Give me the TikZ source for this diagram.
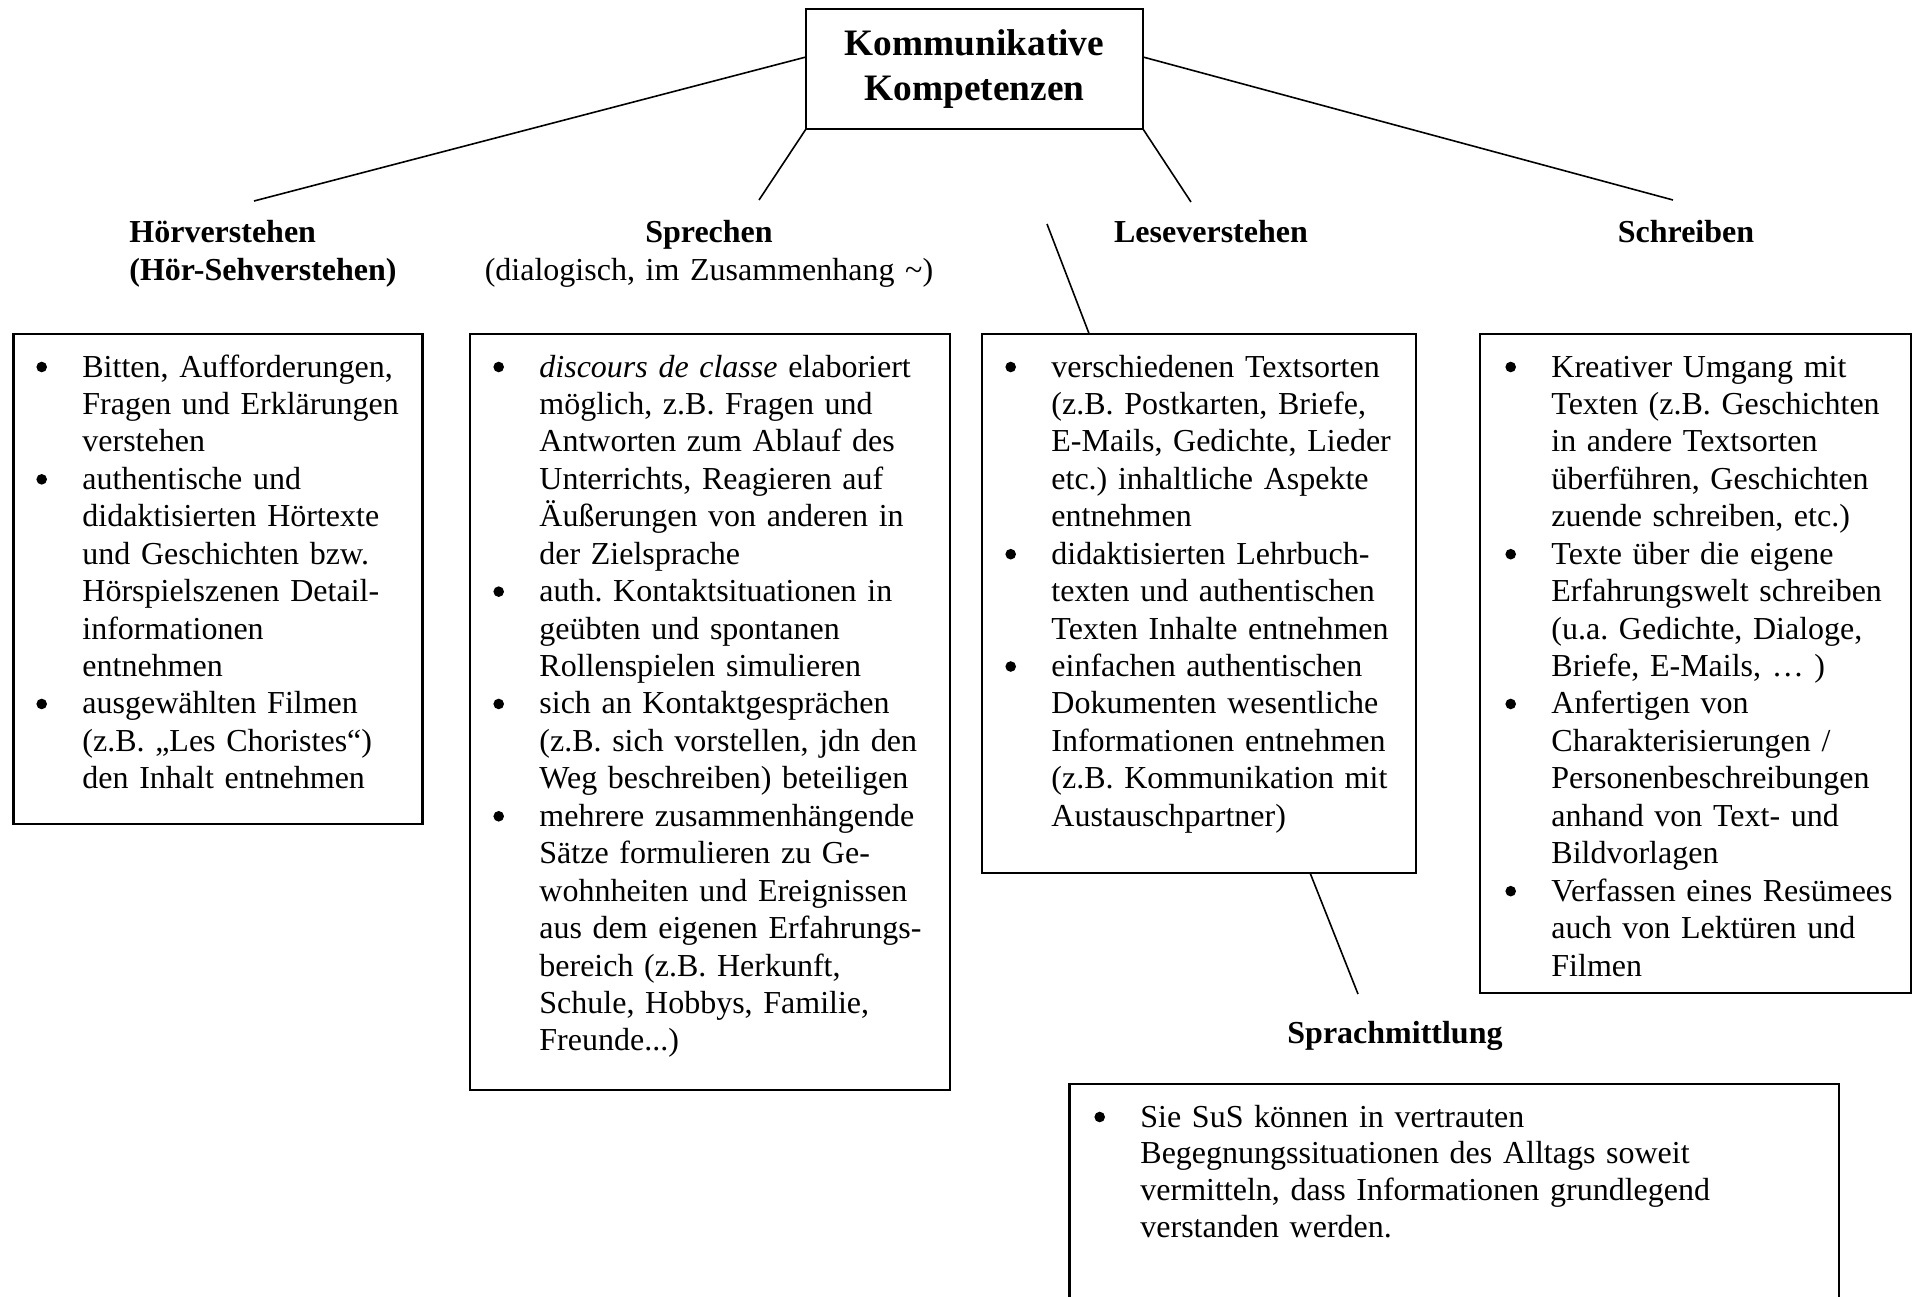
\documentclass[tikz,border=0pt]{standalone}
\usepackage{fontspec}
\setmainfont{Liberation Serif}
\usetikzlibrary{calc}
\frenchspacing
\newcommand{\bul}{\leavevmode\llap{\tikz[baseline=0pt]\fill[black] (0pt,5pt) circle[radius=2.65pt];\hspace{17.7pt}}}
\begin{document}
\begin{tikzpicture}[x=0.5pt,y=-0.5pt,
  boxst/.style={draw, line width=1.2pt, inner sep=0pt, outer sep=0pt, anchor=north west},
  conn/.style={line width=0.8pt},
  txt/.style={anchor=base west, inner sep=0pt, text width=230pt, align=left, font=\fontsize{16}{18.72}\selectfont},
  lbl/.style={inner sep=0pt, font=\fontsize{16}{19}\selectfont\bfseries},
]
\useasboundingbox (0,0) rectangle (1917,1296);
\clip (0,0) rectangle (1917,1296);

% title
\node[boxst, minimum width=168.5pt, minimum height=60pt] (top) at (806,9) {};
\node[anchor=base, inner sep=0pt, text width=160pt, align=center, font=\fontsize{18.67}{22.5}\selectfont\bfseries] (toptxt) at (974.5,55) {Kommunikative\\Kompetenzen};

% labels
\node[lbl, anchor=base west, text width=150pt, align=left] (hv) at (129,242) {Hörverstehen\\(Hör-Sehverstehen)};
\node[lbl, anchor=base, text width=260pt, align=center] (sp) at (709,242) {Sprechen\\\mdseries (dialogisch, im Zusammenhang \textasciitilde)};
\node[lbl, anchor=base] (lv) at (1211,242) {Leseverstehen};
\node[lbl, anchor=base] (sc) at (1686,242) {Schreiben};
\node[lbl, anchor=base] (sm) at (1395,1043) {Sprachmittlung};

% boxes
\node[boxst, minimum width=204.5pt, minimum height=245pt] (b1) at (13.5,334) {};
\node[boxst, minimum width=240pt, minimum height=378pt] (b2) at (470,334) {};
\node[boxst, minimum width=217pt, minimum height=269.5pt] (b3) at (982,334) {};
\node[boxst, minimum width=215.5pt, minimum height=329.5pt] (b4) at (1480,334) {};
\node[boxst, minimum width=384.75pt, minimum height=120pt] (b5) at (1069.5,1084) {};

% connectors
\coordinate (c1) at (254,201);
\coordinate (c2) at (759,200);
\coordinate (c3) at (1191,202);
\coordinate (c4) at (1673,200);
\coordinate (c5) at (1047,224);
\coordinate (c6) at (1358,994);
\draw[conn] ($(top.north west)!0.4!(top.south west)$) -- (c1);
\draw[conn] (top.south west) -- (c2);
\draw[conn] (top.south east) -- (c3);
\draw[conn] ($(top.north east)!0.4!(top.south east)$) -- (c4);
\draw[conn] (c5) -- ($(b3.north west)!0.247!(b3.north east)$);
\draw[conn] ($(b3.south west)!0.756!(b3.south east)$) -- (c6);

% texts
\node[txt] (t1) at (82,377) {\bul Bitten, Aufforderungen,\\
Fragen und Erklärungen\\
verstehen\\
\bul authentische und\\
didaktisierten Hörtexte\\
und Geschichten bzw.\\
Hörspielszenen Detail-\\
informationen\\
entnehmen\\
\bul ausgewählten Filmen\\
(z.B. „Les Choristes“)\\
den Inhalt entnehmen};

\node[txt] (t2) at (539,377) {\bul \textit{discours de classe} elaboriert\\
möglich, z.B. Fragen und\\
Antworten zum Ablauf des\\
Unterrichts, Reagieren auf\\
Äußerungen von anderen in\\
der Zielsprache\\
\bul auth. Kontaktsituationen in\\
geübten und spontanen\\
Rollenspielen simulieren\\
\bul sich an Kontaktgesprächen\\
(z.B. sich vorstellen, jdn den\\
Weg beschreiben) beteiligen\\
\bul mehrere zusammenhängende\\
Sätze formulieren zu Ge-\\
wohnheiten und Ereignissen\\
aus dem eigenen Erfahrungs-\\
bereich (z.B. Herkunft,\\
Schule, Hobbys, Familie,\\
Freunde...)};

\node[txt] (t3) at (1051,377) {\bul verschiedenen Textsorten\\
(z.B. Postkarten, Briefe,\\
E-Mails, Gedichte, Lieder\\
etc.) inhaltliche Aspekte\\
entnehmen\\
\bul didaktisierten Lehrbuch-\\
texten und authentischen\\
Texten Inhalte entnehmen\\
\bul einfachen authentischen\\
Dokumenten wesentliche\\
Informationen entnehmen\\
(z.B. Kommunikation mit\\
Austauschpartner)};

\node[txt] (t4) at (1551,377) {\bul Kreativer Umgang mit\\
Texten (z.B. Geschichten\\
in andere Textsorten\\
überführen, Geschichten\\
zuende schreiben, etc.)\\
\bul Texte über die eigene\\
Erfahrungswelt schreiben\\
(u.a. Gedichte, Dialoge,\\
Briefe, E-Mails, … )\\
\bul Anfertigen von\\
Charakterisierungen /\\
Personenbeschreibungen\\
anhand von Text- und\\
Bildvorlagen\\
\bul Verfassen eines Resümees\\
auch von Lektüren und\\
Filmen};

\node[txt, text width=380pt, font=\fontsize{16}{18.35}\selectfont] (t5) at (1140,1127) {\bul Sie SuS können in vertrauten\\
Begegnungssituationen des Alltags soweit\\
vermitteln, dass Informationen grundlegend\\
verstanden werden.};
\end{tikzpicture}
\end{document}
